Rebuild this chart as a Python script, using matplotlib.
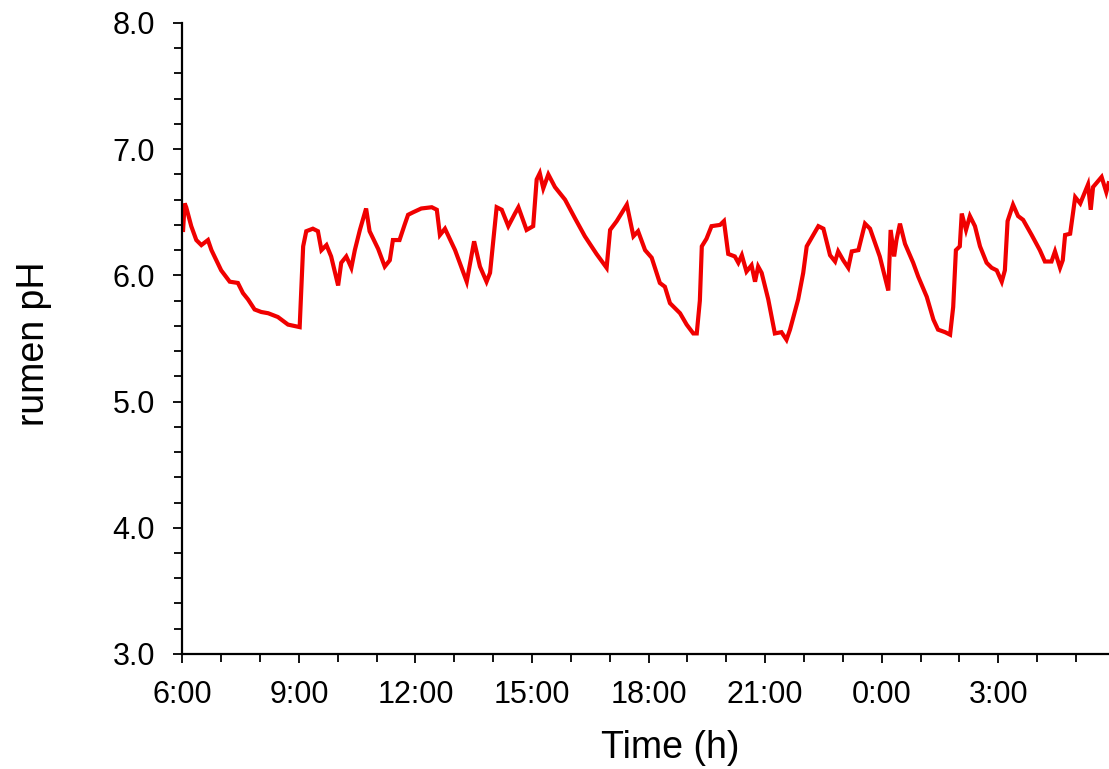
import matplotlib
matplotlib.use("Agg")
import matplotlib.pyplot as plt
from matplotlib.ticker import MultipleLocator

plt.rcParams['font.family'] = ['Liberation Sans', 'DejaVu Sans']

# hours after 6:00
hours = [0.02, 0.06, 0.10, 0.23, 0.36, 0.49, 0.66, 0.75, 1.00, 1.22, 1.43, 1.56, 1.69, 1.86,
         2.03, 2.21, 2.46, 2.72, 3.02, 3.11, 3.19, 3.36, 3.49, 3.58, 3.71, 3.83, 4.01, 4.09,
         4.22, 4.35, 4.44, 4.57, 4.73, 4.82, 5.04, 5.21, 5.34, 5.42, 5.59, 5.72, 5.81, 5.94,
         6.15, 6.42, 6.55, 6.63, 6.76, 7.02, 7.32, 7.51, 7.66, 7.83, 7.92, 8.09, 8.22, 8.39,
         8.56, 8.65, 8.86, 9.03, 9.12, 9.20, 9.29, 9.42, 9.59, 9.85, 10.11, 10.36, 10.66, 10.92,
         11.01, 11.18, 11.44, 11.61, 11.73, 11.91, 12.08, 12.29, 12.42, 12.55, 12.81, 12.98,
         13.15, 13.24, 13.32, 13.37, 13.49, 13.62, 13.84, 13.94, 14.05, 14.22, 14.31, 14.40,
         14.52, 14.65, 14.74, 14.82, 14.91, 15.08, 15.25, 15.42, 15.55, 15.64, 15.85, 15.98,
         16.07, 16.24, 16.37, 16.50, 16.67, 16.80, 16.88, 17.01, 17.14, 17.23, 17.40, 17.57,
         17.70, 17.95, 18.17, 18.23, 18.32, 18.38, 18.47, 18.60, 18.81, 18.94, 19.16, 19.33,
         19.45, 19.63, 19.76, 19.84, 19.91, 20.01, 20.06, 20.17, 20.27, 20.40, 20.53, 20.70,
         20.83, 20.96, 21.09, 21.17, 21.24, 21.38, 21.51, 21.64, 21.86, 22.07, 22.20, 22.37,
         22.46, 22.59, 22.66, 22.72, 22.85, 22.98, 23.11, 23.31, 23.38, 23.44, 23.66, 23.78,
         23.84]

ph = [6.36, 6.57, 6.54, 6.39, 6.28, 6.24, 6.28, 6.20, 6.04, 5.95, 5.94, 5.86, 5.81, 5.73,
      5.71, 5.70, 5.67, 5.61, 5.59, 6.23, 6.35, 6.37, 6.35, 6.20, 6.24, 6.15, 5.92, 6.10,
      6.15, 6.06, 6.20, 6.36, 6.53, 6.35, 6.21, 6.07, 6.12, 6.28, 6.28, 6.40, 6.48, 6.50,
      6.53, 6.54, 6.52, 6.32, 6.37, 6.20, 5.95, 6.27, 6.07, 5.95, 6.02, 6.54, 6.52, 6.39,
      6.49, 6.54, 6.36, 6.39, 6.76, 6.81, 6.69, 6.80, 6.70, 6.60, 6.45, 6.31, 6.17, 6.06,
      6.36, 6.43, 6.56, 6.31, 6.35, 6.20, 6.14, 5.94, 5.91, 5.78, 5.70, 5.61,
      5.54, 5.54, 5.80, 6.23, 6.29, 6.39, 6.40, 6.43, 6.17, 6.15, 6.10, 6.16,
      6.03, 6.08, 5.95, 6.07, 6.02, 5.81, 5.54, 5.55, 5.49, 5.57, 5.81, 6.02,
      6.23, 6.32, 6.39, 6.37, 6.16, 6.11, 6.19, 6.12, 6.06, 6.19, 6.20, 6.41,
      6.37, 6.15, 5.88, 6.36, 6.15, 6.28, 6.41, 6.25, 6.10, 5.99, 5.83, 5.65,
      5.57, 5.55, 5.53, 5.75, 6.20, 6.23, 6.49, 6.36, 6.47, 6.39, 6.23, 6.10,
      6.06, 6.04, 5.95, 6.04, 6.43, 6.56, 6.47, 6.44, 6.32, 6.20, 6.11, 6.11,
      6.19, 6.06, 6.12, 6.32, 6.33, 6.62, 6.57, 6.72, 6.52, 6.70, 6.78, 6.66,
      6.73]

major_ticks = [0, 3, 6, 9, 12, 15, 18, 21]
tick_labels = ['6:00', '9:00', '12:00', '15:00', '18:00', '21:00', '0:00', '3:00']
y_ticks = [3.0, 4.0, 5.0, 6.0, 7.0, 8.0]

fig = plt.figure(figsize=(11.09, 7.69), dpi=100)
ax = fig.add_axes([0.1644, 0.1496, 1.0 - 0.1644, 0.9701 - 0.1496])

ax.plot(hours, ph, color='#f00000', linewidth=3.0, solid_joinstyle='miter')

ax.set_xlim(0, 23.85)
ax.set_ylim(3.0, 8.0)

ax.set_xticks(major_ticks)
ax.set_xticklabels(tick_labels)
ax.xaxis.set_minor_locator(MultipleLocator(1))
ax.set_yticks(y_ticks)
ax.set_yticklabels([f'{v:.1f}' for v in y_ticks])
ax.yaxis.set_minor_locator(MultipleLocator(0.2))

for s in ['top', 'right']:
    ax.spines[s].set_visible(False)
for s in ['left', 'bottom']:
    ax.spines[s].set_linewidth(1.6)
    ax.spines[s].set_color('black')

ax.tick_params(axis='both', which='major', direction='out', length=6.5, width=1.3,
               labelsize=22, colors='black')
ax.tick_params(axis='both', which='minor', direction='out', length=6.0, width=1.3)
ax.tick_params(axis='x', which='major', pad=12)
ax.tick_params(axis='y', which='major', pad=13)

ax.set_xlabel('Time (h)', fontsize=27)
ax.set_ylabel('rumen pH', fontsize=27)
ax.xaxis.set_label_coords(0.526, -0.149)
ax.xaxis.label.set_va('center')
ax.yaxis.set_label_coords(-0.160, 0.491)
ax.yaxis.label.set_va('center')

fig.savefig('out.png', dpi=100)
